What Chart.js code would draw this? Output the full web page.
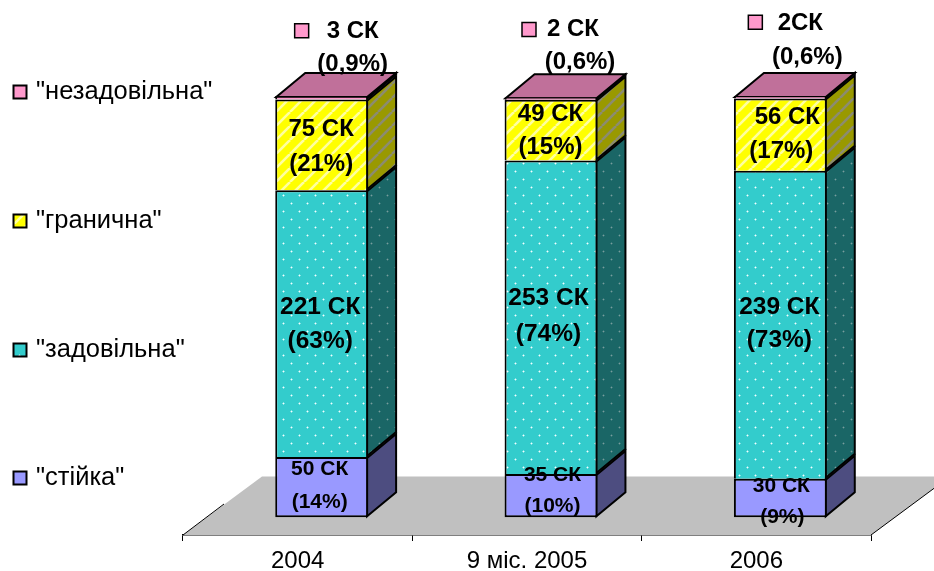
<!DOCTYPE html>
<html><head><meta charset="utf-8">
<style>html,body{margin:0;padding:0;background:#fff}canvas{display:block}</style>
<script src="https://cdn.jsdelivr.net/npm/chart.js@4"></script></head>
<body><canvas id="c" width="934" height="571"></canvas>
<script>
const categories = ['2004', '9 міс. 2005', '2006'];
const seriesNames = ['"стійка"', '"задовільна"', '"гранична"', '"незадовільна"'];
const stiyka = [14.33, 10.29, 9.17];
const zadovilna = [63.32, 74.41, 73.09];
const granychna = [21.49, 14.41, 17.13];
const nezadovilna = [0.86, 0.59, 0.61];
const labelsStiyka = [['50 СК', '(14%)'], ['35 СК', '(10%)'], ['30 СК', '(9%)']];
const labelsZadovilna = [['221 СК', '(63%)'], ['253 СК', '(74%)'], ['239 СК', '(73%)']];
const labelsGranychna = [['75 СК', '(21%)'], ['49 СК', '(15%)'], ['56 СК', '(17%)']];
const labelsNezadovilna = [['3 СК', '(0,9%)'], ['2 СК', '(0,6%)'], ['2СК', '(0,6%)']];

const DX = 29, DY = -24, SHIFT = 24;
function makePattern(kind, bg, fg, halo) {
  const t = document.createElement('canvas');
  const x = t.getContext('2d');
  if (kind === 'stripe') {
    t.width = 14; t.height = 14;
    x.fillStyle = bg; x.fillRect(0, 0, 14, 14);
    x.strokeStyle = fg; x.lineWidth = 2.6;
    for (let k = -14; k <= 14; k += 14) { x.beginPath(); x.moveTo(k, 14); x.lineTo(k + 14, 0); x.stroke(); }
  } else if (kind === 'dots') {
    t.width = 16; t.height = 16;
    x.fillStyle = bg; x.fillRect(0, 0, 16, 16);
    [[3, 3], [11, 11]].forEach(p => {
      x.fillStyle = halo; x.fillRect(p[0] - 1, p[1], 3, 1); x.fillRect(p[0], p[1] - 1, 1, 3);
      x.fillStyle = fg; x.fillRect(p[0], p[1], 1, 1);
    });
  } else { t.width = t.height = 2; x.fillStyle = bg; x.fillRect(0,0,2,2); }
  return x.createPattern(t, 'repeat');
}
const ctxMain = document.getElementById('c').getContext('2d');
const front = [
  makePattern('solid', '#9999FF'),
  makePattern('dots', '#33CCCC', '#F0FFFF', '#88E2E2'),
  makePattern('stripe', '#FFFF00', '#FFFFA0'),
  makePattern('solid', '#FF99CC')
];
const side = [
  makePattern('solid', '#4D4D80'),
  makePattern('dots', '#1A6666', '#7A9C9C', '#3A7A7A'),
  makePattern('stripe', '#999900', '#8C8C70'),
  makePattern('solid', '#804D66')
];
const topFace = '#C0709A';

const textLabels = [labelsStiyka, labelsZadovilna, labelsGranychna, labelsNezadovilna];
// offsets [dx1, dy1, dx2, dy2] of the two text lines, from the middle of each segment
const nudges = [
  [[-2,-18,-2,15],[1.5,-20,1.5,11],[1,-12,2,19]],
  [[-1.5,-16.5,-1.5,17.5],[-2.5,-19,-2.5,17],[-1,-17,-1,16]],
  [[-0.5,-16,-0.5,19],[-0.5,-16,-0.5,17],[7,-17,1,17]],
  [[31,-66,31,-33],[22,-69,29,-36],[20,-74,27,-40]]
];
const sizes = [21, 24.5, 24, 24];
const topBox = [[-20,-68],[-22,-70],[-25,-76]];
const legendY = [478, 350, 221, 92];

const scene3d = {
  id: 'scene3d',
  beforeDatasetsDraw(chart) {
    const c = chart.ctx, a = chart.chartArea, bt = a.bottom, backY = a.bottom - 58.5;
    c.save();
    c.fillStyle = '#C0C0C0';
    c.beginPath(); c.moveTo(a.left, bt); c.lineTo(a.left + 79, backY); c.lineTo(a.right + 79, backY); c.lineTo(a.right, bt); c.closePath(); c.fill();
    c.strokeStyle = '#000'; c.lineWidth = 1;
    c.beginPath(); c.moveTo(a.left, bt); c.lineTo(a.left + 41, bt - 31); c.stroke();
    c.beginPath(); c.moveTo(a.right, bt); c.lineTo(a.right + 79, backY); c.stroke();
    c.restore();
    // sides and tops, drawn from the bar elements themselves
    chart.data.datasets.forEach((ds, i) => {
      chart.getDatasetMeta(i).data.forEach(bar => {
        const l = bar.x - bar.width / 2 + SHIFT + 1, r = l + bar.width - 2, t = bar.y + 1, b = bar.base - 1;
        c.save();
        c.strokeStyle = '#000'; c.lineWidth = 2; c.lineJoin = 'miter';
        c.beginPath(); c.moveTo(r, b); c.lineTo(r + DX, b + DY); c.lineTo(r + DX, t + DY); c.lineTo(r, t); c.closePath();
        c.fillStyle = side[i]; c.fill(); c.stroke();
        if (i === chart.data.datasets.length - 1) {
          c.beginPath(); c.moveTo(l, t); c.lineTo(l + DX, t + DY); c.lineTo(r + DX, t + DY); c.lineTo(r, t); c.closePath();
          c.fillStyle = topFace; c.fill(); c.stroke();
        }
        c.restore();
      });
    });
  },
  beforeDatasetDraw(chart) { chart.ctx.save(); chart.ctx.translate(SHIFT, 0); },
  afterDatasetDraw(chart) { chart.ctx.restore(); },
  afterDatasetsDraw(chart) {
    const c = chart.ctx;
    c.save();
    c.fillStyle = '#000'; c.textAlign = 'center'; c.textBaseline = 'middle';
    chart.data.datasets.forEach((ds, i) => {
      c.font = 'bold ' + sizes[i] + 'px "Liberation Sans"';
      chart.getDatasetMeta(i).data.forEach((bar, j) => {
        const cx = bar.x + SHIFT, cy = (bar.y + bar.base) / 2, n = nudges[i][j], s = textLabels[i][j];
        c.fillText(s[0], cx + n[0], cy + n[1]);
        c.fillText(s[1], cx + n[2], cy + n[3]);
        if (i === 3) {
          c.save();
          c.fillStyle = '#FF99CC'; c.strokeStyle = '#000'; c.lineWidth = 1.5;
          c.beginPath(); c.rect(cx + topBox[j][0] - 7, cy + topBox[j][1] - 6, 14, 14); c.fill(); c.stroke();
          c.restore();
        }
      });
    });
    // legend
    c.textAlign = 'left';
    c.font = '25.5px "Liberation Sans"';
    seriesNames.forEach((name, i) => {
      c.fillStyle = front[i]; c.strokeStyle = '#000'; c.lineWidth = 2;
      c.beginPath(); c.rect(13.5, legendY[i] - 6.5, 13, 13); c.fill(); c.stroke();
      c.fillStyle = '#000';
      c.fillText(name, 36, legendY[i]);
    });
    c.restore();
  }
};

const barData = [stiyka, zadovilna, granychna, nezadovilna];
new Chart(ctxMain, {
  type: 'bar',
  data: {
    labels: categories,
    datasets: barData.map((d, i) => ({
      label: seriesNames[i], data: d, backgroundColor: front[i],
      borderColor: '#000', borderSkipped: false,
      borderWidth: i === 0 ? 2 : { top: 2, left: 2, right: 2, bottom: 0 },
      barPercentage: 0.81, categoryPercentage: 0.5
    }))
  },
  options: {
    responsive: false, animation: false,
    layout: { padding: { left: 183, right: 63, top: 96, bottom: 0 } },
    plugins: { legend: { display: false }, tooltip: { enabled: false } },
    scales: {
      x: {
        stacked: true,
        afterFit(s) { s.height = 36; },
        grid: { drawOnChartArea: false, drawTicks: true, tickLength: 6, color: '#000', offset: true },
        border: { display: true, color: '#000', width: 1.5 },
        ticks: { color: '#000', font: { family: '"Liberation Sans"', size: 24 }, padding: 6, maxRotation: 0 }
      },
      y: { stacked: true, display: false, min: -4.2, max: 100 }
    }
  },
  plugins: [scene3d]
});
</script></body></html>
